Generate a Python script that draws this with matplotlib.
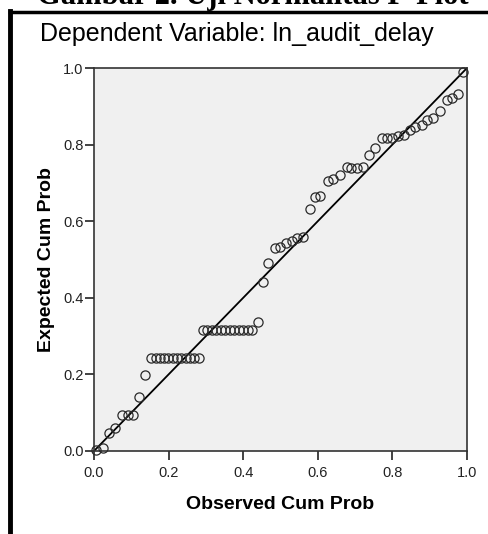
import numpy as np
import matplotlib
matplotlib.use("Agg")
import matplotlib.pyplot as plt
from matplotlib.lines import Line2D

# observed vs expected cumulative probabilities
observed = [0.005, 0.025, 0.040, 0.057, 0.075, 0.090, 0.105, 0.120, 0.137,
            0.153, 0.165, 0.176, 0.188, 0.199, 0.211, 0.223, 0.234, 0.246, 0.258, 0.269, 0.281,
            0.292, 0.304, 0.316, 0.328, 0.340, 0.352, 0.364, 0.376, 0.388, 0.400, 0.412, 0.424,
            0.440, 0.453, 0.467, 0.485, 0.500, 0.515, 0.530, 0.545, 0.560,
            0.579, 0.593, 0.606, 0.627, 0.641, 0.660, 0.678, 0.690, 0.705, 0.720,
            0.737, 0.753, 0.772, 0.785, 0.800, 0.815, 0.831, 0.847, 0.861, 0.879,
            0.893, 0.909, 0.928, 0.946, 0.960, 0.976, 0.990]
expected = [0.003, 0.008, 0.047, 0.060, 0.094, 0.094, 0.094, 0.141, 0.198,
            0.243, 0.243, 0.243, 0.243, 0.243, 0.243, 0.243, 0.243, 0.243, 0.243, 0.243, 0.243,
            0.316, 0.316, 0.316, 0.316, 0.316, 0.316, 0.316, 0.316, 0.316, 0.316, 0.316, 0.316,
            0.337, 0.441, 0.491, 0.530, 0.532, 0.543, 0.547, 0.556, 0.560,
            0.632, 0.663, 0.666, 0.705, 0.710, 0.720, 0.741, 0.739, 0.739, 0.742,
            0.773, 0.791, 0.817, 0.817, 0.817, 0.822, 0.825, 0.838, 0.846, 0.851,
            0.864, 0.869, 0.888, 0.916, 0.922, 0.932, 0.990]
ticks = [0.0, 0.2, 0.4, 0.6, 0.8, 1.0]

W, H = 489, 534
fig = plt.figure(figsize=(W / 100, H / 100), dpi=100)
fig.patch.set_facecolor("white")

ax = fig.add_axes([94 / W, 1 - 451 / H, 373 / W, 383 / H])
ax.set_facecolor("#f0f0f0")
ax.plot([0, 1], [0, 1], color="black", lw=1.3, zorder=2)
ax.plot(observed, expected, "o", mfc="none", mec="#2a2a2a", mew=0.9, ms=6.6,
        zorder=3, clip_on=False)

ax.set_xlim(0, 1)
ax.set_ylim(0, 1)
ax.set_xticks(ticks)
ax.set_yticks(ticks)
ax.set_xticklabels([f"{t:.1f}" for t in ticks])
ax.set_yticklabels([f"{t:.1f}" for t in ticks])
ax.tick_params(direction="out", length=6.5, width=1.2, color="#222222",
               labelsize=10.5, labelcolor="#222222")
ax.tick_params(axis="x", pad=4)
ax.tick_params(axis="y", pad=1)
for s in ax.spines.values():
    s.set_color("#333333")
    s.set_linewidth(1.2)

font = "Liberation Sans"
for lab in ax.get_xticklabels() + ax.get_yticklabels():
    lab.set_family(font)

ax.set_xlabel("Observed Cum Prob", fontsize=14, fontweight="bold", family=font, labelpad=12)
ax.set_ylabel("Expected Cum Prob", fontsize=14, fontweight="bold", family=font, labelpad=6)

fig.text(40 / W, 1 - 41 / H, "Dependent Variable: ln_audit_delay", fontsize=18,
         family=font, ha="left", va="baseline")

# caption cut off at the top edge
fig.text(253 / W, 1 - 4 / H, "Gambar 2. Uji Normalitas P-Plot", fontsize=22,
         family="Liberation Serif", fontweight="bold", ha="center", va="baseline")

# black frame around the chart
fig.add_artist(Line2D([9.5 / W, 9.5 / W], [0, 1 - 11 / H], color="black", lw=3.5,
                      transform=fig.transFigure, solid_capstyle="projecting"))
fig.add_artist(Line2D([9.5 / W, 1.0], [1 - 11.5 / H, 1 - 11.5 / H], color="black", lw=2.5,
                      transform=fig.transFigure, solid_capstyle="projecting"))

fig.savefig("out.png", dpi=100, facecolor="white")
